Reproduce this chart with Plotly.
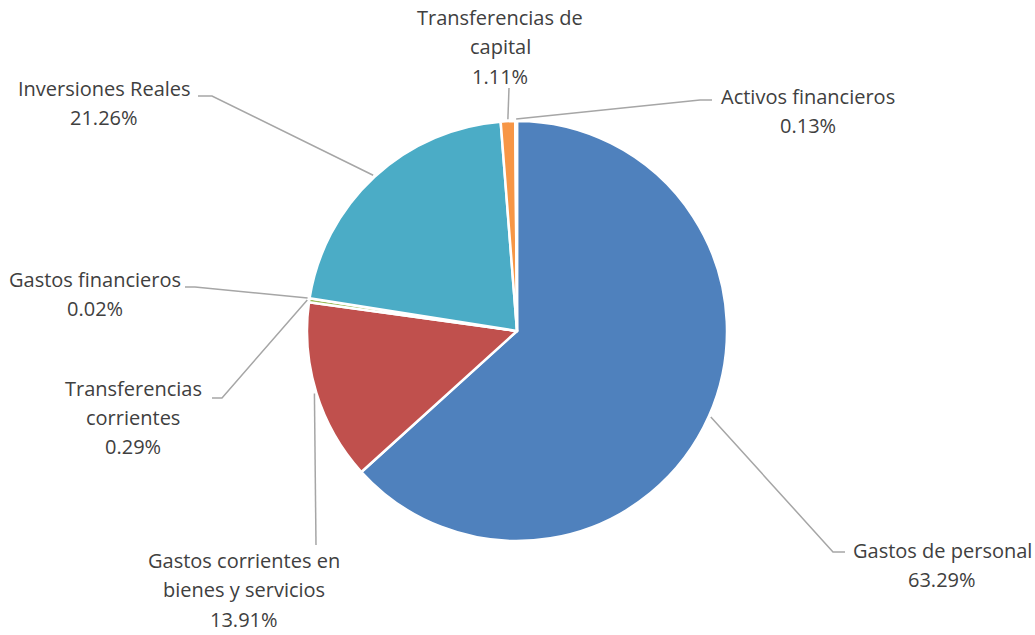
import math
import plotly.graph_objects as go

# ---- data ----
labels = ["Gastos de personal", "Gastos corrientes en bienes y servicios",
          "Transferencias corrientes", "Gastos financieros", "Inversiones Reales",
          "Transferencias de capital", "Activos financieros"]
label_lines = [["Gastos de personal"], ["Gastos corrientes en", "bienes y servicios"],
               ["Transferencias", "corrientes"], ["Gastos financieros"], ["Inversiones Reales"],
               ["Transferencias de", "capital"], ["Activos financieros"]]
values = [63.29, 13.91, 0.29, 0.02, 21.26, 1.11, 0.13]
colors = ["#4F81BD", "#C0504D", "#9BBB59", "#8064A2", "#4BACC6", "#F79646", "#2C4D75"]

# ---- layout (pixels) ----
W, H = 1035, 635
CX, CY, R = 517, 331, 210
# label block: center x, first line center y
label_pos = [(942, 550), (244, 560), (133, 388), (95, 279), (104, 88), (500, 17), (808, 96)]
# leader elbow and end points
elbows = [((833, 552), (845, 552)), ((316, 545), (316, 545)), ((222, 398), (212, 398)),
          ((195, 287), (185, 287)), ((212, 96), (198, 96)), ((509, 88), (509, 88)),
          ((700, 100), (712, 100))]
LINE_H = 29.5

def px(x):
    return x / W

def py(y):
    return 1 - y / H

fig = go.Figure(go.Pie(
    labels=labels, values=values, sort=False, direction="clockwise", rotation=0,
    marker=dict(colors=colors, line=dict(color="white", width=2.5)),
    textinfo="none", hoverinfo="label+percent",
    domain=dict(x=[px(CX - R), px(CX + R)], y=[py(CY + R), py(CY - R)]),
    showlegend=False,
))

total = sum(values)
cum = 0.0
shapes = []
annotations = []
font = dict(family="Open Sans, Liberation Sans, sans-serif", size=20, color="#404040")
for i, v in enumerate(values):
    mid = (cum + v / 2) / total * 2 * math.pi
    cum += v
    sx = CX + (R + 2) * math.sin(mid)
    sy = CY - (R + 2) * math.cos(mid)
    (ex, ey), (tx, ty) = elbows[i]
    path = f"M {px(sx)},{py(sy)} L {px(ex)},{py(ey)} L {px(tx)},{py(ty)}"
    shapes.append(dict(type="path", xref="paper", yref="paper", path=path,
                       line=dict(color="#A6A6A6", width=1.5)))
    lines = label_lines[i] + [f"{v:.2f}%"]
    lx, ly = label_pos[i]
    for k, t in enumerate(lines):
        annotations.append(dict(text=t, x=px(lx), y=py(ly + k * LINE_H), xref="paper", yref="paper",
                                xanchor="center", yanchor="middle", showarrow=False, font=font))

fig.update_layout(width=W, height=H, margin=dict(l=0, r=0, t=0, b=0),
                  paper_bgcolor="white", plot_bgcolor="white",
                  shapes=shapes, annotations=annotations)
fig.write_html("out.html", config={"displayModeBar": False},
               post_script="document.body.style.margin='0';")
